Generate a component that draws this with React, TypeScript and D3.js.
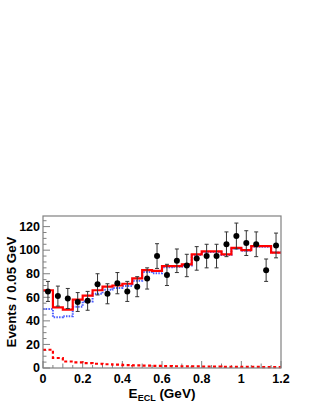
import React from "react";
import * as d3 from "d3";

const binEdges = d3.range(0, 1.2001, 0.05).map((v) => +v.toFixed(2));
const dataY = [65, 61, 59, 56, 57, 71, 63, 72, 65, 69, 76, 95, 79, 91, 87, 93, 95, 95, 105, 112, 106, 105, 83, 104];
const dataErr = [8.5, 8.5, 8.5, 8, 8, 9, 8.5, 9, 8.5, 8.5, 9, 10.5, 9, 10, 9.5, 10, 10, 10, 10.5, 11, 10.5, 10.5, 9.5, 10.5];
const totalFit = [66, 51.5, 49.5, 58, 61.5, 66, 69, 70, 71.5, 76, 83, 82.5, 86.5, 86.5, 88, 96.5, 99, 99, 96.5, 102, 100, 103.5, 103.5, 98];
const bkgFit = [50, 43, 44, 52, 56.5, 63, 66.5, 68, 69.5, 74, 81.5, 80.5, 85.5, 86, 87, 96, 98.5, 98.5, 96, 101.5, 99.5, 103, 103, 98];
const sigFit = [15.5, 8.5, 5.5, 4.8, 4.2, 3.6, 3.2, 2.8, 2.5, 2.2, 2.0, 1.8, 1.6, 1.5, 1.4, 1.3, 1.2, 1.1, 1.0, 1.0, 0.9, 0.9, 0.8, 0.8];
const xTicks = [0, 0.2, 0.4, 0.6, 0.8, 1, 1.2];
const yTicks = [0, 20, 40, 60, 80, 100, 120];

const W = 316, H = 409;
const L = 43, R = 281, T = 216, B = 368;
const FONT = "'Liberation Sans', Arial, Helvetica, sans-serif";

export default function App() {
  const x = d3.scaleLinear().domain([0, 1.2]).range([L, R]);
  const y = d3.scaleLinear().domain([0, 129]).range([B, T]);

  const stepPath = (vals: number[]) => {
    const pts: [number, number][] = vals.map((v, i) => [binEdges[i], v]);
    pts.push([binEdges[vals.length], vals[vals.length - 1]]);
    return d3.line<[number, number]>().x((d) => x(d[0])).y((d) => y(d[1])).curve(d3.curveStepAfter)(pts) || "";
  };

  const centers = dataY.map((_, i) => (binEdges[i] + binEdges[i + 1]) / 2);
  const yMinor = d3.range(0, 129, 5);
  const xMinor = d3.range(0, 1.2001, 0.05);
  const axisColor = "#808080";

  return (
    <svg width={W} height={H} style={{ position: "absolute", left: 0, top: 0, background: "#fff" }}>
      <rect x={0} y={0} width={W} height={H} fill="#fff" />
      {yMinor.map((v) => (
        <line key={"ym" + v} x1={L} x2={L + (v % 20 === 0 ? 7 : 3.5)} y1={y(v)} y2={y(v)} stroke={axisColor} strokeWidth={1} />
      ))}
      {xMinor.map((v, i) => (
        <line key={"xm" + i} x1={x(v)} x2={x(v)} y1={B} y2={B - (i % 4 === 0 ? 7 : i % 2 === 0 ? 4.5 : 3)} stroke={axisColor} strokeWidth={1} />
      ))}
      <path d={stepPath(bkgFit)} fill="none" stroke="#4a5cff" strokeWidth={2} strokeDasharray="1.5,1.2" />
      <path d={stepPath(totalFit)} fill="none" stroke="#ff0000" strokeWidth={2.2} />
      <path d={stepPath(sigFit)} fill="none" stroke="#ff0000" strokeWidth={2.2} strokeDasharray="3,2.5" />
      {dataY.map((v, i) => {
        const cx = x(centers[i]);
        const y1 = y(v + dataErr[i]);
        const y2 = y(v - dataErr[i]);
        return (
          <g key={"p" + i}>
            <line x1={cx} x2={cx} y1={y1} y2={y2} stroke="#333" strokeWidth={1} />
            <line x1={cx - 2} x2={cx + 2} y1={y1} y2={y1} stroke="#333" strokeWidth={1} />
            <line x1={cx - 2} x2={cx + 2} y1={y2} y2={y2} stroke="#333" strokeWidth={1} />
            <circle cx={cx} cy={y(v)} r={3} fill="#000" />
          </g>
        );
      })}
      <rect x={L} y={T} width={R - L} height={B - T} fill="none" stroke={axisColor} strokeWidth={1.2} />
      {yTicks.map((v) => (
        <text key={"yl" + v} x={L - 3} y={y(v) + 4.3} textAnchor="end" fontFamily={FONT} fontWeight="bold" fontSize={12.5} fill="#000">
          {v}
        </text>
      ))}
      {xTicks.map((v) => (
        <text key={"xl" + v} x={x(v)} y={382.5} textAnchor="middle" fontFamily={FONT} fontWeight="bold" fontSize={12.5} fill="#000">
          {v}
        </text>
      ))}
      <text x={(L + R) / 2} y={398} textAnchor="middle" fontFamily={FONT} fontWeight="bold" fontSize={13.5} fill="#000">
        E<tspan fontSize={9} dy={3}>ECL</tspan>
        <tspan dy={-3}> (GeV)</tspan>
      </text>
      <text transform={`translate(16,${(T + B) / 2}) rotate(-90)`} textAnchor="middle" fontFamily={FONT} fontWeight="bold" fontSize={13.3} fill="#000">
        Events / 0.05 GeV
      </text>
    </svg>
  );
}
